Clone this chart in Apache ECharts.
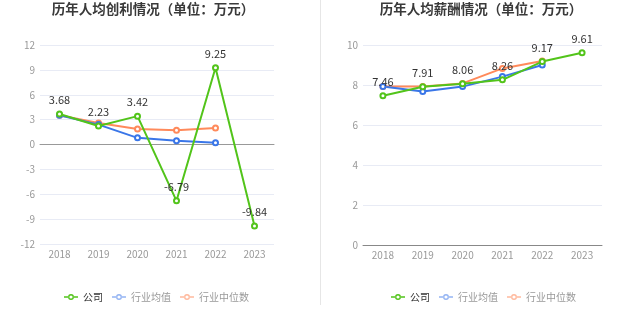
<!DOCTYPE html>
<html><head><meta charset="utf-8">
<script src="https://cdn.jsdelivr.net/npm/echarts@6/dist/echarts.min.js"></script>
<style>html,body{margin:0;padding:0;background:#fff}#c{width:637px;height:327px}</style>
</head><body><div id="c"></div>
<script>
const years = ['2018','2019','2020','2021','2022','2023'];
const profitCompany = [3.68, 2.23, 3.42, -6.79, 9.25, -9.84];
const profitAvg = [3.52, 2.4, 0.8, 0.44, 0.2, null];
const profitMedian = [3.52, 2.6, 1.88, 1.72, 2.0, null];
const salaryCompany = [7.46, 7.91, 8.06, 8.26, 9.17, 9.61];
const salaryAvg = [7.92, 7.67, 7.92, 8.42, 9.0, null];
const salaryMedian = [7.92, 7.92, 8.08, 8.83, 9.2, null];
const names = ['公司','行业均值','行业中位数'];
const colors = ['#52c41a','#3a76e8','#ff8a5b'];
const lightColors = ['#52c41a','#94b4f3','#ffb99d'];
const font = 'Microsoft YaHei, "Noto Sans CJK SC", sans-serif';
const legendIcon = 'path://M0,2.3H4.2V3.7H0Z M9.8,2.3H14V3.7H9.8Z M4,3A3,3,0,1,0,10,3A3,3,0,1,0,4,3Z M5.4,3A1.6,1.6,0,1,1,8.6,3A1.6,1.6,0,1,1,5.4,3Z';

const chart = echarts.init(document.getElementById('c'));
function mkSeries(name, data, idx, xi, yi, label) {
  return {
    name, type: 'line', data, xAxisIndex: xi, yAxisIndex: yi,
    symbol: 'emptyCircle', symbolSize: 5,
    lineStyle: {width: 2, color: colors[idx]},
    itemStyle: {color: colors[idx]},
    z: idx === 0 ? 5 : 3,
    label: label ? {show: true, position: 'top', color: '#333', fontSize: 11, fontFamily: font} : {show: false}
  };
}
function legend(left) {
  return {
    left, top: 287, itemWidth: 14, itemHeight: 6, itemGap: 9,
    data: names.map((n, i) => ({
      name: n,
      icon: legendIcon,
      itemStyle: {color: lightColors[i], borderWidth: 0},
      textStyle: {color: i === 0 ? '#333' : '#999', fontSize: 10, fontFamily: font}
    }))
  };
}
const axisLabel = {color: '#999', fontSize: 10, fontFamily: font, margin: 5};
const splitLine = {show: true, lineStyle: {color: '#e8ebf5'}};
const titleStyle = {fontSize: 13.5, fontWeight: 'bold', color: '#3a3a3a', fontFamily: font};
chart.setOption({
  animation: false,
  title: [
    {text: '历年人均创利情况（单位：万元）', left: 153, top: 2, padding: 0, textAlign: 'center', textStyle: titleStyle},
    {text: '历年人均薪酬情况（单位：万元）', left: 481, top: 2, padding: 0, textAlign: 'center', textStyle: titleStyle}
  ],
  legend: [legend(59), legend(386)],
  graphic: [{type: 'line', shape: {x1: 320.5, y1: 0, x2: 320.5, y2: 305}, style: {stroke: '#e6e6e6', lineWidth: 1}}],
  grid: [
    {left: 40, top: 45, width: 234, height: 199},
    {left: 363, top: 45, width: 239, height: 200}
  ],
  xAxis: [
    {type: 'category', gridIndex: 0, data: years, axisLine: {onZero: true, lineStyle: {color: '#999'}}, axisTick: {alignWithLabel: true, lineStyle: {color: '#999'}}, axisLabel: {show: false}},
    {type: 'category', gridIndex: 0, data: years, position: 'bottom', axisLine: {show: false, onZero: false}, axisTick: {show: false}, axisLabel: axisLabel},
    {type: 'category', gridIndex: 1, data: years, axisLine: {lineStyle: {color: '#888'}}, axisTick: {alignWithLabel: true, lineStyle: {color: '#888'}}, axisLabel: axisLabel}
  ],
  yAxis: [
    {type: 'value', gridIndex: 0, min: -12, max: 12, interval: 3, axisLabel: axisLabel, splitLine, axisLine: {show: false}, axisTick: {show: false}},
    {type: 'value', gridIndex: 1, min: 0, max: 10, interval: 2, axisLabel: axisLabel, splitLine, axisLine: {show: false}, axisTick: {show: false}}
  ],
  series: [
    mkSeries('行业中位数', profitMedian, 2, 0, 0, false),
    mkSeries('行业均值', profitAvg, 1, 0, 0, false),
    mkSeries('公司', profitCompany, 0, 0, 0, true),
    mkSeries('行业中位数', salaryMedian, 2, 2, 1, false),
    mkSeries('行业均值', salaryAvg, 1, 2, 1, false),
    mkSeries('公司', salaryCompany, 0, 2, 1, true)
  ]
});
</script></body></html>
